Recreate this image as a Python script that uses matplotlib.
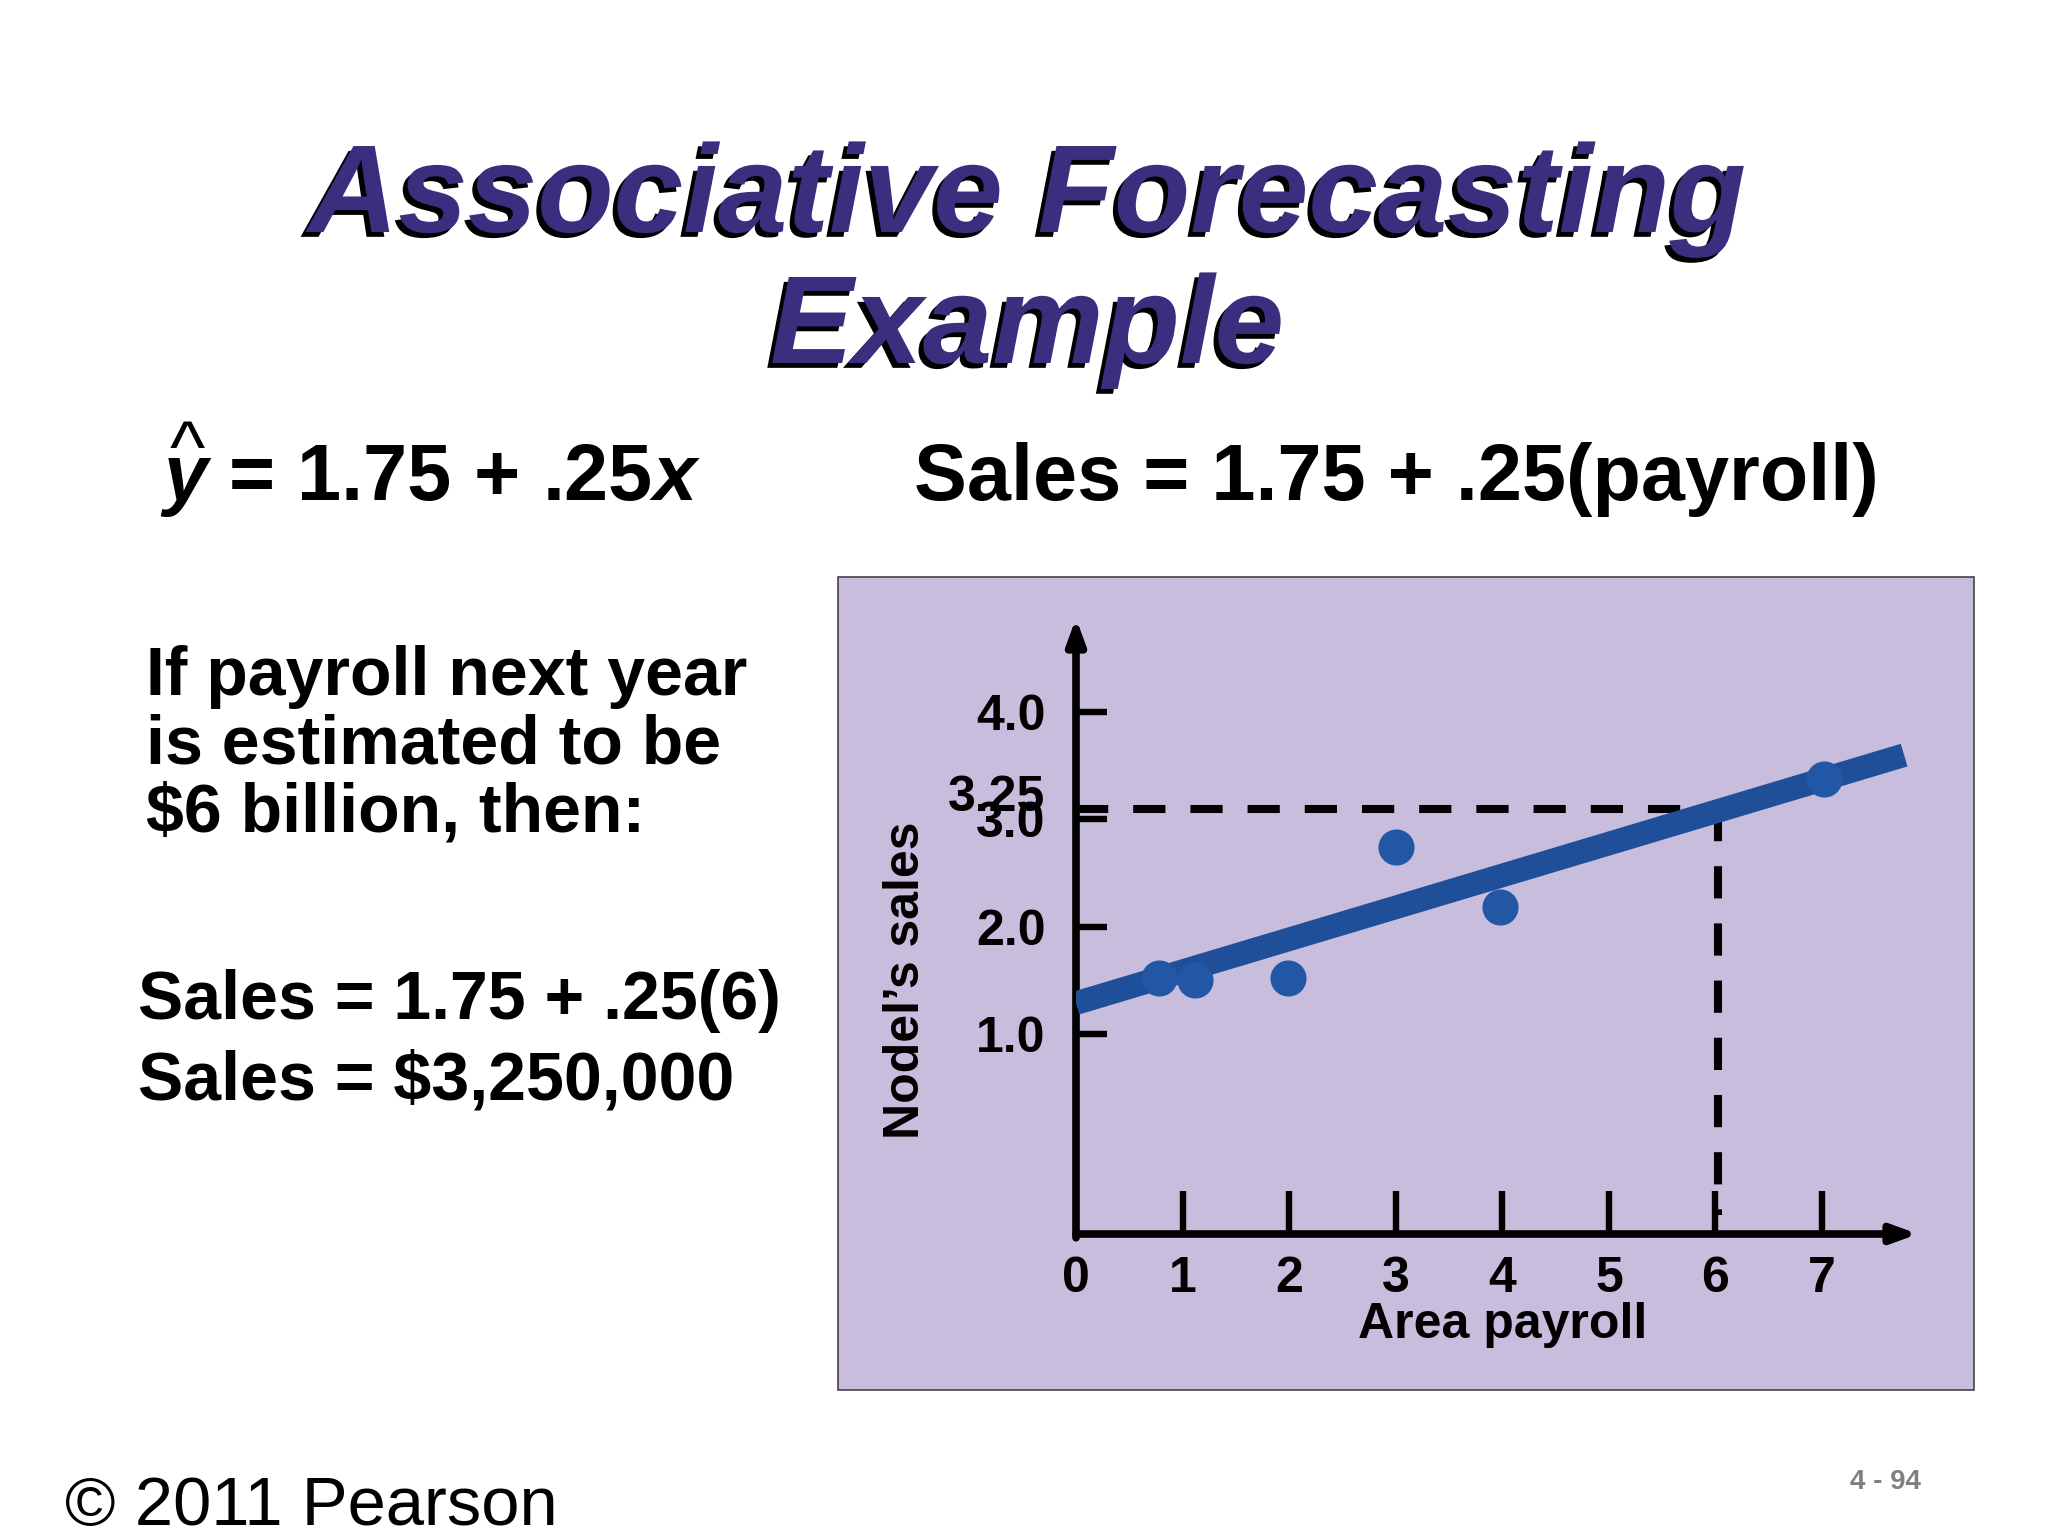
import matplotlib
matplotlib.use('Agg')
import matplotlib.pyplot as plt
import matplotlib.patheffects as pe
from matplotlib.patches import Rectangle

plt.rcParams['font.family'] = ['Liberation Sans', 'DejaVu Sans']

W, H = 2048, 1536

# values
payroll = [0.78, 1.12, 1.99, 3.00, 3.98, 7.02]
sales = [1.52, 1.50, 1.52, 2.74, 2.18, 3.38]
fit_x = [0.0, 7.77]
fit_y = [1.285, 3.60]
forecast_x = 6.02
forecast_y = 3.10
forecast_label = "3.25"
forecast_label_y = 3.25
drop_bottom = -0.69
x_ticks = [0, 1, 2, 3, 4, 5, 6, 7]
x_tick_labels = ["0", "1", "2", "3", "4", "5", "6", "7"]
y_ticks = [1.0, 2.0, 3.0, 4.0]
y_tick_labels = ["1.0", "2.0", "3.0", "4.0"]
x_min, x_max = 0.0, 7.9
y_min, y_max = -0.87, 4.88

TITLE_COLOR = '#3a2f7e'
PANEL_COLOR = '#c9bddd'
LINE_COLOR = '#1f4f98'
DOT_COLOR = '#2257a6'


def fx(x):
    return x / W


def fy(y):
    return 1 - y / H


fig = plt.figure(figsize=(W / 100, H / 100), dpi=100, facecolor='white')
renderer = fig.canvas.get_renderer()

# title with drop shadow
shadow = [pe.withSimplePatchShadow(offset=(-3.5, -3.5), shadow_rgbFace='black', alpha=1.0)]
for txt, y in [("Associative Forecasting", 232), ("Example", 363)]:
    fig.text(fx(1027), fy(y), txt, ha='center', va='baseline', fontsize=90,
             fontweight='bold', fontstyle='italic', color=TITLE_COLOR,
             path_effects=shadow)


def run_text(x, y, pieces, size):
    """pieces: (text, style, gap_before_in_em)"""
    em = size * 100 / 72
    boxes = []
    for s, style, gap in pieces:
        x += gap * em
        t = fig.text(fx(x), fy(y), s, ha='left', va='baseline', fontsize=size,
                     fontweight='bold', fontstyle=style)
        bb = t.get_window_extent(renderer)
        boxes.append(bb)
        x = bb.x1
    return boxes


# y-hat equation
eq = run_text(163, 500, [("y", 'italic', 0), ("=", 'normal', 0.28),
                         ("1.75", 'normal', 0.28), ("+", 'normal', 0.28),
                         (".25", 'normal', 0.28), ("x", 'italic', 0.0)], 57)
ybox = eq[0]
fig.text(fx((ybox.x0 + ybox.x1) / 2 + 2), fy(418), "^", ha='center', va='top',
         fontsize=54)

fig.text(fx(914), fy(500), "Sales = 1.75 + .25(payroll)", ha='left', va='baseline',
         fontsize=57, fontweight='bold')

for txt, y in [("If payroll next year", 695), ("is estimated to be", 764),
               ("$6 billion, then:", 832)]:
    fig.text(fx(146), fy(y), txt, ha='left', va='baseline', fontsize=49,
             fontweight='bold')

for txt, y in [("Sales = 1.75 + .25(6)", 1019), ("Sales = $3,250,000", 1100)]:
    fig.text(fx(138), fy(y), txt, ha='left', va='baseline', fontsize=49,
             fontweight='bold')

fig.text(fx(65), fy(1525), "\u00a9 2011 Pearson", ha='left', va='baseline', fontsize=49.5)
fig.text(fx(1921), fy(1489), "4 - 94", ha='right', va='baseline', fontsize=20,
         fontweight='bold', color='#808080')

# purple panel behind the chart
fig.patches.append(Rectangle((fx(838), fy(1390)), (1974 - 838) / W, (1390 - 577) / H,
                             transform=fig.transFigure, facecolor=PANEL_COLOR,
                             edgecolor='#444444', lw=1.2, zorder=-1))

ax = fig.add_axes([fx(1076), fy(1234), 842 / W, (1234 - 618) / H])
ax.patch.set_alpha(0)
ax.set_xlim(x_min, x_max)
ax.set_ylim(y_min, y_max)
for s in ax.spines.values():
    s.set_visible(False)

arrow = dict(arrowstyle='-|>,head_length=0.33,head_width=0.12', color='black',
             lw=5.5, shrinkA=0, shrinkB=0, mutation_scale=45)
ax.annotate('', xy=(x_min, y_max), xytext=(x_min, y_min - 0.035), arrowprops=arrow,
            annotation_clip=False)
ax.annotate('', xy=(x_max, y_min), xytext=(x_min, y_min), arrowprops=arrow,
            annotation_clip=False)

ax.set_xticks(x_ticks, x_tick_labels, fontweight='bold')
ax.set_yticks(y_ticks, y_tick_labels, fontweight='bold')
ax.tick_params(axis='x', direction='in', length=31, width=4.6, pad=16, labelsize=36)
ax.tick_params(axis='y', direction='in', length=22, width=4.6, pad=22, labelsize=36)
ax.xaxis.get_major_ticks()[0].tick1line.set_visible(False)

dash = (0, (4.0, 3.1))
ax.plot([x_min, forecast_x], [forecast_y, forecast_y], color='black', lw=5.8,
        ls=dash, clip_on=False, zorder=2)
ax.plot([forecast_x, forecast_x], [forecast_y, drop_bottom], color='black', lw=5.8,
        ls=dash, clip_on=False, zorder=2)

ax.plot(fit_x, fit_y, color=LINE_COLOR, lw=17, solid_capstyle='butt', zorder=3)
ax.plot(payroll, sales, 'o', ms=26, color=DOT_COLOR, mec='none', zorder=4)

ax.annotate(forecast_label, xy=(x_min, forecast_label_y), xytext=(-22, 0),
            textcoords='offset points', ha='right', va='center_baseline',
            fontsize=36, fontweight='bold')

ax.text(-0.202, 0.412, "Nodel\u2019s sales", transform=ax.transAxes, rotation=90,
        ha='center', va='center', fontsize=36, fontweight='bold')
ax.text(0.507, -0.169, "Area payroll", transform=ax.transAxes, ha='center',
        va='baseline', fontsize=36, fontweight='bold')

fig.savefig('out.png', dpi=100, facecolor='white')
